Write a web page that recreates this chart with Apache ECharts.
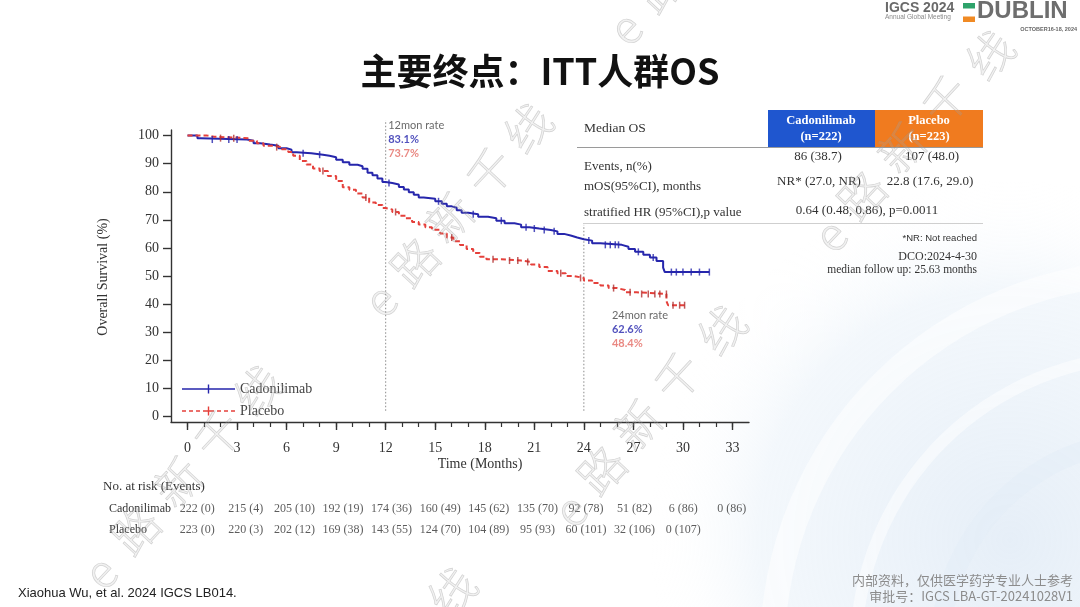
<!DOCTYPE html>
<html><head><meta charset="utf-8">
<script src="https://cdn.jsdelivr.net/npm/echarts@6/dist/echarts.min.js"></script>
<style>html,body{margin:0;padding:0;background:#fff}#c{width:1080px;height:607px}</style>
</head><body><div id="c"></div><script>
// ---------- data ----------
const cadoCurve = [[0,100],[0.6,99.1],[0.8,98.6],[3.6,98.2],[4.0,97.3],[4.4,96.8],[5.0,96.4],[5.5,95.5],[6.0,95.0],[6.3,94.1],[6.6,93.7],[7.5,93.2],[8.2,92.8],[8.6,92.3],[9.0,91.4],[9.4,90.5],[9.8,89.6],[10.3,89.1],[10.6,88.2],[10.9,86.8],[11.2,85.9],[11.5,84.7],[11.8,83.5],[12.0,83.1],[12.4,82.6],[12.8,81.7],[13.1,80.8],[13.4,79.8],[13.7,78.9],[14.0,78.0],[14.3,77.5],[15.0,76.6],[15.4,75.7],[15.7,74.8],[16.0,74.3],[16.3,73.4],[16.6,72.5],[17.0,72.0],[17.6,71.1],[18.2,70.6],[18.7,69.7],[19.2,68.8],[19.8,68.3],[20.2,67.4],[20.7,66.9],[21.3,66.4],[22.0,65.9],[22.4,65.0],[22.8,64.4],[23.2,63.7],[23.6,63.1],[24.0,62.6],[24.5,61.7],[25.0,61.1],[26.3,60.4],[26.7,59.6],[27.1,58.6],[27.6,57.6],[28.0,56.6],[28.4,55.3],[28.8,53.0],[28.9,51.4],[31.6,51.4]];
const placeboCurve = [[0,100],[1.2,99.6],[1.6,99.1],[3.7,98.2],[4.2,97.3],[4.6,96.4],[5.2,95.9],[5.7,95.1],[6.1,94.2],[6.4,92.8],[6.8,91.0],[7.2,89.7],[7.6,88.3],[8.0,87.4],[8.5,85.6],[9.0,83.8],[9.4,81.6],[9.8,80.7],[10.2,79.4],[10.6,78.0],[11.0,76.2],[11.4,75.3],[11.8,74.2],[12.0,73.7],[12.4,72.8],[12.8,71.5],[13.2,70.6],[13.6,69.2],[14.0,68.3],[14.4,67.4],[14.8,66.5],[15.3,65.1],[15.7,63.7],[16.1,62.4],[16.5,61.0],[16.9,59.6],[17.3,58.2],[17.7,56.9],[18.1,56.0],[19.0,55.5],[20.2,55.0],[20.8,54.1],[21.3,53.2],[21.8,51.8],[22.4,51.0],[22.9,50.0],[23.4,49.3],[24.0,48.4],[24.5,47.5],[25.0,46.6],[25.5,45.7],[26.0,45.0],[26.5,44.2],[27.2,43.6],[29.0,41.0],[29.1,39.6],[30.1,39.6]];
const cadoCensor = [[1.5,98.6],[2.5,98.6],[3.0,98.6],[7.0,93.7],[8.0,93.2],[12.2,83.1],[15.2,76.6],[17.3,72.0],[19.0,69.7],[20.5,67.4],[21.0,66.9],[21.6,66.4],[22.2,65.9],[24.3,62.6],[25.3,61.1],[25.6,61.1],[25.9,61.1],[26.1,61.1],[27.3,58.6],[28.2,56.6],[29.3,51.4],[29.6,51.4],[30.0,51.4],[30.5,51.4],[31.0,51.4],[31.6,51.4]];
const placeboCensor = [[2.0,99.1],[2.8,99.1],[5.4,95.9],[8.2,87.4],[10.8,78.0],[12.6,72.8],[16.0,63.7],[18.5,56.0],[19.5,55.5],[20.0,55.5],[20.6,55.0],[22.6,51.0],[23.8,49.3],[25.8,45.7],[26.8,44.2],[27.5,43.6],[27.9,43.6],[28.3,43.6],[28.6,43.6],[29.0,43.6],[29.4,39.6],[29.8,39.6],[30.1,39.6]];
const yTicks = [0,10,20,30,40,50,60,70,80,90,100];
const xTicks = [0,3,6,9,12,15,18,21,24,27,30,33];
const monthTicks = [0,1,2,3,4,5,6,7,8,9,10,11,12,13,14,15,16,17,18,19,20,21,22,23,24,25,26,27,28,29,30,31,32,33];
const riskTimes = [0,3,6,9,12,15,18,21,24,27,30,33];
const cadoRisk = ['222 (0)','215 (4)','205 (10)','192 (19)','174 (36)','160 (49)','145 (62)','135 (70)','92 (78)','51 (82)','6 (86)','0 (86)'];
const placeboRisk = ['223 (0)','220 (3)','202 (12)','169 (38)','143 (55)','124 (70)','104 (89)','95 (93)','60 (101)','32 (106)','0 (107)'];
const groups = ['Cadonilimab','Placebo'];
const rate12 = ['83.1%','73.7%'];
const rate24 = ['62.6%','48.4%'];
const statRows = ['Events, n(%)','mOS(95%CI), months','stratified HR (95%CI),p value'];
const cadoStats = ['86 (38.7)','NR* (27.0, NR)'];
const placeboStats = ['107 (48.0)','22.8 (17.6, 29.0)'];
const hrText = '0.64 (0.48, 0.86), p=0.0011';

// ---------- styles ----------
const BLUE = '#2626ac', RED = '#e5403b';
const SERIF = '"Liberation Serif","DejaVu Serif",serif';
const SANS = '"Liberation Sans",Arial,sans-serif';
const CJK = '"Noto Sans CJK SC","Noto Sans",sans-serif';

// legend icons (line + censor cross), drawn in a 53x14 box
const iconSolid = 'path://M0,6.3H53V7.7H0Z M25.8,2.5H27.2V11.5H25.8Z';
const iconDash = 'path://M0,6.3H4V7.7H0Z M7,6.3H11V7.7H7Z M14,6.3H18V7.7H14Z M21,6.3H32V7.7H21Z M35,6.3H39V7.7H35Z M42,6.3H46V7.7H42Z M49,6.3H53V7.7H49Z M25.8,2.5H27.2V11.5H25.8Z';

// watermark
const wmText = ['e','路','新','千','线'];
const wmGroups = [
  [[380,300],[415,262],[450,218],[490,172],[528,128]],
  [[570,510],[602,470],[638,425],[678,377],[722,330]],
  [[830,235],[862,195],[902,148],[946,100],[990,55]],
  [[100,572],[136,530],[178,482],[218,435],[258,390]],
  [[625,28],[660,-12],null,null,null],
  [null,null,null,null,[452,592]]
];
const wm = [];
wmGroups.forEach(g => g.forEach((p,i) => {
  if (!p) return;
  wm.push({type:'text', x:p[0], y:p[1], rotation:0.82, z:100, silent:true,
    style:{text:wmText[i], fontSize:46, fontFamily:CJK, fontWeight:300, fill:'rgba(175,175,175,0.18)',
      stroke:'rgba(150,150,150,0.4)', lineWidth:0.7, align:'center', verticalAlign:'middle'}});
}));

const chart = echarts.init(document.getElementById('c'), null, {renderer:'canvas'});

const txt = (x,y,text,o) => ({type:'text', x, y, silent:true, z:50,
  style:Object.assign({text, fontFamily:SERIF, fontSize:13, fill:'#333', align:'left', verticalAlign:'middle'}, o||{})});

const graphics = [
  // background swirl
  {type:'circle', shape:{cx:1010,cy:540,r:360}, silent:true, z:-10,
    style:{fill:new echarts.graphic.RadialGradient(0.5,0.5,0.5,[{offset:0,color:'rgba(205,222,240,0.5)'},{offset:0.7,color:'rgba(218,232,245,0.32)'},{offset:1,color:'rgba(255,255,255,0)'}])}},
  {type:'ring', shape:{cx:1150,cy:650,r:390,r0:365}, silent:true, z:-9, style:{fill:'rgba(255,255,255,0.55)'}},
  {type:'ring', shape:{cx:1150,cy:650,r:300,r0:288}, silent:true, z:-9, style:{fill:'rgba(255,255,255,0.5)'}},
  {type:'ring', shape:{cx:1150,cy:650,r:220,r0:200}, silent:true, z:-9, style:{fill:'rgba(228,238,247,0.5)'}},
  // title
  txt(540,71,'主要终点：ITT人群OS',{fontFamily:CJK, fontSize:36, fontWeight:'bold', fill:'#111', align:'center'}),
  // logo
  txt(885,8,'IGCS 2024',{fontFamily:SANS, fontSize:14, fontWeight:'bold', fill:'#6a6a6a'}),
  txt(885,17.5,'Annual Global Meeting',{fontFamily:SANS, fontSize:6.5, fill:'#8a8a8a'}),
  {type:'rect', shape:{x:963,y:3,width:12,height:5.5}, style:{fill:'#2ea36b'}, silent:true},
  {type:'rect', shape:{x:963,y:16.5,width:12,height:5.5}, style:{fill:'#f08a24'}, silent:true},
  txt(977,11,'DUBLIN',{fontFamily:SANS, fontSize:24, fontWeight:'bold', fill:'#6e6e6e'}),
  txt(1077,29,'OCTOBER16-18, 2024',{fontFamily:SANS, fontSize:5.5, fontWeight:'bold', fill:'#666', align:'right'}),
  // axis names
  {type:'text', x:103, y:277, rotation:Math.PI/2, silent:true,
    style:{text:'Overall Survival (%)', fontFamily:SERIF, fontSize:14, fill:'#333', align:'center', verticalAlign:'middle'}},
  txt(480,464,'Time (Months)',{fontSize:14, align:'center'}),
  txt(103,487,'No. at risk (Events)',{fontSize:13}),
  // stats table
  {type:'rect', shape:{x:768,y:110,width:107,height:37}, style:{fill:'#1f56cf'}, silent:true},
  {type:'rect', shape:{x:875,y:110,width:108,height:37}, style:{fill:'#f07b1f'}, silent:true},
  txt(821,121,groups[0],{fill:'#fff', fontWeight:'bold', fontSize:12.5, align:'center'}),
  txt(821,137,'(n=222)',{fill:'#fff', fontWeight:'bold', fontSize:12.5, align:'center'}),
  txt(929,121,groups[1],{fill:'#fff', fontWeight:'bold', fontSize:12.5, align:'center'}),
  txt(929,137,'(n=223)',{fill:'#fff', fontWeight:'bold', fontSize:12.5, align:'center'}),
  txt(584,128,'Median OS',{fontSize:13.5}),
  {type:'line', shape:{x1:577,y1:147.5,x2:983,y2:147.5}, style:{stroke:'#9a9a9a', lineWidth:1.2}, silent:true},
  {type:'line', shape:{x1:583,y1:223.5,x2:983,y2:223.5}, style:{stroke:'#cfcfcf', lineWidth:1}, silent:true},
  txt(584,167,statRows[0],{fontSize:13}),
  txt(584,187,statRows[1],{fontSize:13}),
  txt(584,213,statRows[2],{fontSize:13}),
  txt(818,157,cadoStats[0],{fontSize:13, align:'center'}),
  txt(932,157,placeboStats[0],{fontSize:13, align:'center'}),
  txt(819,182,cadoStats[1],{fontSize:13, align:'center'}),
  txt(930,182,placeboStats[1],{fontSize:13, align:'center'}),
  txt(867,211,hrText,{fontSize:13, align:'center'}),
  txt(977,238,'*NR: Not reached',{fontFamily:SANS, fontSize:9.5, align:'right'}),
  txt(977,257,'DCO:2024-4-30',{fontSize:12, align:'right'}),
  txt(977,270,'median follow up: 25.63 months',{fontSize:11.5, align:'right'}),
  // footer
  txt(18,593,'Xiaohua Wu, et al. 2024 IGCS LB014.',{fontFamily:SANS, fontSize:13, fill:'#222'}),
  txt(1073,580,'内部资料，仅供医学药学专业人士参考',{fontFamily:CJK, fontSize:13, fill:'#8c8c8c', align:'right'}),
  txt(1073,596,'审批号：IGCS LBA-GT-20241028V1',{fontFamily:CJK, fontSize:13, fill:'#8c8c8c', align:'right'})
].concat(wm);

const riskData = [];
riskTimes.forEach((t,i) => {
  if (cadoRisk[i] !== undefined) riskData.push({value:[t, groups[0]], label:{formatter:cadoRisk[i]}});
  if (placeboRisk[i] !== undefined) riskData.push({value:[t, groups[1]], label:{formatter:placeboRisk[i]}});
});

const option = {
  backgroundColor:'transparent',
  animation:false,
  grid:[
    {left:171, right:331, top:130, bottom:185},
    {left:181, right:332, top:498, height:42}
  ],
  xAxis:[
    {gridIndex:0, type:'value', min:-1, max:34, position:'bottom',
      axisLine:{show:true, onZero:false, lineStyle:{color:'#333', width:1.4}},
      axisTick:{show:true, length:8, customValues:xTicks, lineStyle:{color:'#333', width:1.4}},
      axisLabel:{customValues:xTicks, margin:19, fontFamily:SERIF, fontSize:14, color:'#333'},
      splitLine:{show:false}},
    {gridIndex:0, type:'value', min:-1, max:34, position:'top', offset:-292,
      axisLine:{show:false}, axisLabel:{show:false}, splitLine:{show:false},
      axisTick:{show:true, inside:true, length:5, customValues:monthTicks, lineStyle:{color:'#333', width:1.2}}},
    {gridIndex:1, type:'value', min:-1, max:34, show:false}
  ],
  yAxis:[
    {gridIndex:0, type:'value', min:-2, max:102,
      axisLine:{show:true, onZero:false, lineStyle:{color:'#333', width:1.4}},
      axisTick:{show:true, length:8, customValues:yTicks, lineStyle:{color:'#333', width:1.4}},
      axisLabel:{customValues:yTicks, margin:12, fontFamily:SERIF, fontSize:14, color:'#333'},
      splitLine:{show:false}},
    {gridIndex:1, type:'category', data:groups, inverse:true,
      axisLine:{show:false}, axisTick:{show:false}, splitLine:{show:false},
      axisLabel:{align:'left', margin:72, fontFamily:SERIF, fontSize:12, color:'#333'}}
  ],
  legend:{
    data:[{name:groups[0], icon:iconSolid, itemStyle:{color:BLUE}}, {name:groups[1], icon:iconDash, itemStyle:{color:RED}}],
    orient:'vertical', left:177, top:377, itemGap:8, itemWidth:53, itemHeight:14,
    textStyle:{fontFamily:SERIF, fontSize:14, color:'#444'}, selectedMode:false
  },
  graphic:{elements:graphics},
  series:[
    {name:groups[0], type:'line', step:'end', data:cadoCurve, symbol:'none', xAxisIndex:0, yAxisIndex:0,
      lineStyle:{color:BLUE, width:2}, itemStyle:{color:BLUE}, z:3},
    {name:groups[1], type:'line', step:'end', data:placeboCurve, symbol:'none', xAxisIndex:0, yAxisIndex:0,
      lineStyle:{color:RED, width:2, type:[5,3]}, itemStyle:{color:RED}, z:4},
    {type:'scatter', data:cadoCensor, symbol:'rect', symbolSize:[1.5,7], itemStyle:{color:BLUE}, silent:true, z:5},
    {type:'scatter', data:placeboCensor, symbol:'rect', symbolSize:[1.5,7], itemStyle:{color:'#b03030'}, silent:true, z:5},
    // reference lines
    {type:'line', data:[[12,2],[12,105.5]], symbol:'none', clip:false, silent:true,
      lineStyle:{color:'#8a8a8a', width:1, type:[1.5,2]}, z:1},
    {type:'line', data:[[24,2],[24,68.2]], symbol:'none', clip:false, silent:true,
      lineStyle:{color:'#8a8a8a', width:1, type:[1.5,2]}, z:1},
    // rate annotations
    {type:'scatter', symbolSize:0, clip:false, silent:true, z:6,
      label:{show:true, position:'right', distance:0, fontFamily:'Lato,"Open Sans",sans-serif', fontSize:11},
      data:[
        {value:[12.15,103.6], label:{formatter:'12mon rate', color:'#444'}},
        {value:[12.15,98.6], label:{formatter:rate12[0], color:BLUE, fontWeight:'bold'}},
        {value:[12.15,93.6], label:{formatter:rate12[1], color:'#e36a63', fontWeight:'bold'}},
        {value:[25.7,36.1], label:{formatter:'24mon rate', color:'#444'}},
        {value:[25.7,31.1], label:{formatter:rate24[0], color:BLUE, fontWeight:'bold'}},
        {value:[25.7,26.1], label:{formatter:rate24[1], color:'#e36a63', fontWeight:'bold'}}
      ]},
    // at-risk table
    {type:'scatter', xAxisIndex:2, yAxisIndex:1, symbolSize:0, silent:true, data:riskData,
      label:{show:true, position:'inside', fontFamily:SERIF, fontSize:12, color:'#333'}}
  ]
};
chart.setOption(option);
</script></body></html>
